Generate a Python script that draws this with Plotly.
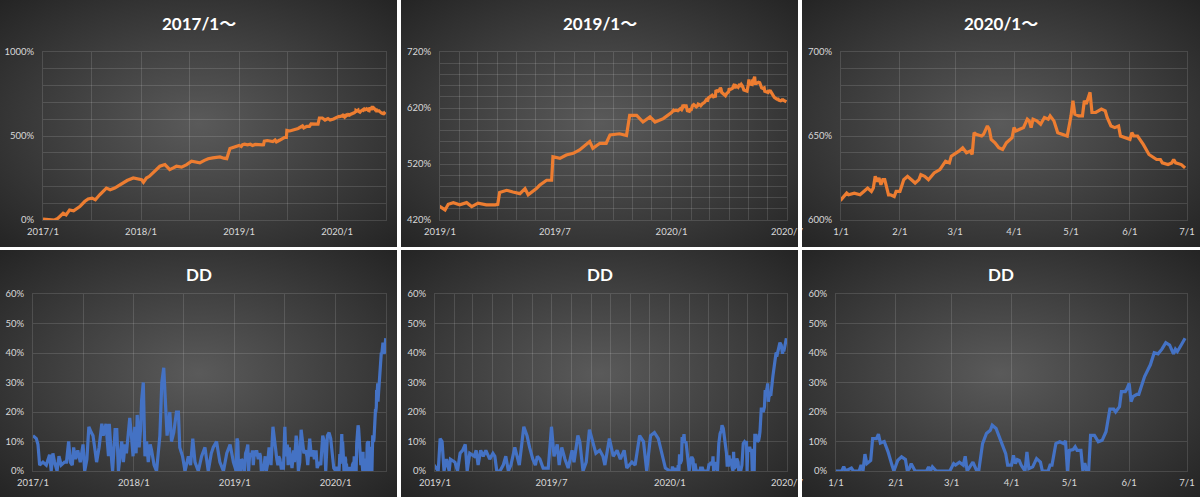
import base64
import plotly.graph_objects as go

# ----- DATA -----
eq_dates = [
    "2017-01-01", "2017-01-20", "2017-02-13", "2017-02-25", "2017-03-17", "2017-03-28",
    "2017-04-10", "2017-04-25", "2017-05-18", "2017-06-05", "2017-06-18", "2017-07-03",
    "2017-07-15", "2017-07-31", "2017-08-12", "2017-08-25", "2017-09-08", "2017-09-25",
    "2017-10-10", "2017-10-26", "2017-11-10", "2017-12-03", "2017-12-18", "2018-01-03",
    "2018-01-10", "2018-01-21", "2018-02-01", "2018-02-15", "2018-03-01", "2018-03-12",
    "2018-03-31", "2018-04-18", "2018-05-01", "2018-05-13", "2018-06-01", "2018-06-20",
    "2018-07-08", "2018-07-20", "2018-08-08", "2018-08-25", "2018-09-08", "2018-09-25",
    "2018-10-22", "2018-11-05", "2018-11-16", "2018-11-28", "2018-12-15",
    "2019-01-01", "2019-01-09", "2019-01-14", "2019-01-22", "2019-02-01", "2019-02-12",
    "2019-02-20", "2019-03-02", "2019-03-15", "2019-03-29", "2019-04-02", "2019-04-05",
    "2019-04-16", "2019-04-26", "2019-05-07", "2019-05-15", "2019-05-20", "2019-06-02",
    "2019-06-07", "2019-06-18", "2019-06-26", "2019-06-28", "2019-07-09", "2019-07-19",
    "2019-07-30", "2019-08-09", "2019-08-25", "2019-08-30", "2019-09-10", "2019-09-20",
    "2019-09-26", "2019-10-11", "2019-10-22", "2019-10-27", "2019-11-07", "2019-11-17",
    "2019-11-28", "2019-12-06", "2019-12-19",
    "2020-01-01", "2020-01-04", "2020-01-05", "2020-01-08", "2020-01-11", "2020-01-13",
    "2020-01-15", "2020-01-17", "2020-01-18", "2020-01-19", "2020-01-20", "2020-01-21",
    "2020-01-22", "2020-01-23", "2020-01-24", "2020-01-26", "2020-01-27", "2020-01-29",
    "2020-01-30", "2020-02-01", "2020-02-03", "2020-02-05", "2020-02-08", "2020-02-09",
    "2020-02-11", "2020-02-12", "2020-02-14", "2020-02-16", "2020-02-19", "2020-02-22",
    "2020-02-25", "2020-02-27", "2020-02-28", "2020-03-02", "2020-03-03", "2020-03-05",
    "2020-03-07", "2020-03-09", "2020-03-10", "2020-03-11", "2020-03-12", "2020-03-15",
    "2020-03-16", "2020-03-18", "2020-03-19", "2020-03-20", "2020-03-22", "2020-03-24",
    "2020-03-26", "2020-03-28", "2020-03-31", "2020-04-01", "2020-04-02", "2020-04-04",
    "2020-04-06", "2020-04-08", "2020-04-09", "2020-04-10", "2020-04-11", "2020-04-13",
    "2020-04-15", "2020-04-17", "2020-04-19", "2020-04-20", "2020-04-22", "2020-04-24",
    "2020-04-27", "2020-04-29", "2020-05-01", "2020-05-02", "2020-05-03", "2020-05-05",
    "2020-05-07", "2020-05-08", "2020-05-09", "2020-05-11", "2020-05-12", "2020-05-14",
    "2020-05-17", "2020-05-19", "2020-05-20", "2020-05-22", "2020-05-24", "2020-05-26",
    "2020-05-27", "2020-05-30", "2020-06-01", "2020-06-02", "2020-06-03", "2020-06-05",
    "2020-06-08", "2020-06-11", "2020-06-15", "2020-06-17", "2020-06-18", "2020-06-21",
    "2020-06-23", "2020-06-24", "2020-06-25", "2020-06-28", "2020-06-30",
]
eq_values = [
    5, 3, 0, 10, 40, 30,
    60, 55, 80, 110, 125, 130,
    120, 150, 170, 190, 180, 190,
    205, 220, 235, 250, 245, 240,
    225, 250, 260, 280, 300, 320,
    330, 300, 310, 320, 315, 330,
    350, 345, 340, 355, 365, 370,
    375, 368, 365, 425, 435,
    444, 438, 448, 451, 447, 451,
    444, 450, 447, 447, 448, 469,
    473, 470, 467, 476, 465, 476,
    482, 491, 491, 533, 530, 536,
    539, 545, 560, 548, 557, 557,
    572, 574, 571, 607, 607, 595,
    604, 595, 601,
    612, 616, 615, 616, 615, 617,
    619, 617, 619, 626, 623, 625,
    621, 624, 624, 615, 615, 614,
    617, 617, 624, 626, 623, 622,
    624, 627, 626, 624, 628, 630,
    635, 634, 638, 640, 641, 643,
    640, 641, 639, 652, 651, 650,
    651, 656, 654, 648, 646, 643,
    642, 646, 649, 655, 653, 654,
    655, 660, 659, 655, 660, 659,
    657, 661, 660, 662, 659, 652,
    651, 650, 662, 671, 663, 662,
    662, 671, 669, 676, 664, 664,
    666, 665, 661, 656, 655, 656,
    650, 649, 648, 652, 650, 650,
    645, 639, 636, 636, 634, 633,
    634, 636, 634, 633, 631,
]

dd_dates = [
    "2017-01-01", "2017-01-13", "2017-01-19", "2017-01-25", "2017-02-06", "2017-02-18",
    "2017-03-02", "2017-03-08", "2017-03-14", "2017-03-20", "2017-03-29", "2017-04-05",
    "2017-04-13", "2017-04-25", "2017-05-02", "2017-05-10", "2017-05-16", "2017-05-23",
    "2017-05-28", "2017-06-04", "2017-06-12", "2017-06-21", "2017-07-01", "2017-07-07",
    "2017-07-15", "2017-07-22", "2017-07-31", "2017-08-06", "2017-08-12", "2017-08-19",
    "2017-08-28", "2017-09-07", "2017-09-12", "2017-09-22", "2017-10-01", "2017-10-04",
    "2017-10-13", "2017-10-16", "2017-10-25", "2017-10-31", "2017-11-06", "2017-11-18",
    "2017-11-24", "2017-11-30", "2017-12-05", "2017-12-11", "2017-12-17", "2017-12-23",
    "2017-12-29", "2018-01-04", "2018-01-09", "2018-01-13", "2018-01-20", "2018-01-25",
    "2018-01-29", "2018-02-04", "2018-02-10", "2018-02-16", "2018-02-22", "2018-03-01",
    "2018-03-06", "2018-03-15", "2018-03-24", "2018-04-05", "2018-04-12", "2018-04-19",
    "2018-04-26", "2018-05-01", "2018-05-05", "2018-05-11", "2018-05-17", "2018-05-25",
    "2018-06-04", "2018-06-11", "2018-06-16", "2018-06-26", "2018-07-05", "2018-07-17",
    "2018-07-25", "2018-08-02", "2018-08-10", "2018-08-22", "2018-09-03", "2018-09-15",
    "2018-09-27", "2018-10-08", "2018-10-15", "2018-10-27", "2018-11-08", "2018-11-21",
    "2018-12-03", "2018-12-15", "2018-12-27",
    "2019-01-01", "2019-01-06", "2019-01-09", "2019-01-12", "2019-01-15", "2019-01-19",
    "2019-01-23", "2019-01-25", "2019-02-01", "2019-02-05", "2019-02-09", "2019-02-13",
    "2019-02-17", "2019-02-20", "2019-02-24", "2019-03-03", "2019-03-06", "2019-03-09",
    "2019-03-13", "2019-03-17", "2019-03-21", "2019-03-27", "2019-04-01", "2019-04-04",
    "2019-04-07", "2019-04-12", "2019-04-17", "2019-04-21", "2019-04-25", "2019-04-29",
    "2019-05-05", "2019-05-09", "2019-05-12", "2019-05-19", "2019-05-24", "2019-05-28",
    "2019-06-02", "2019-06-06", "2019-06-09", "2019-06-13", "2019-06-18", "2019-06-26",
    "2019-07-01", "2019-07-05", "2019-07-10", "2019-07-13", "2019-07-17", "2019-07-22",
    "2019-07-27", "2019-08-02", "2019-08-05", "2019-08-11", "2019-08-14", "2019-08-19",
    "2019-08-24", "2019-08-29", "2019-09-03", "2019-09-08", "2019-09-14", "2019-09-19",
    "2019-09-22", "2019-09-29", "2019-10-05", "2019-10-11", "2019-10-16", "2019-10-22",
    "2019-10-26", "2019-11-03", "2019-11-08", "2019-11-15", "2019-11-21", "2019-11-26",
    "2019-12-02", "2019-12-08", "2019-12-14", "2019-12-19", "2019-12-25",
    "2020-01-01", "2020-01-04", "2020-01-05", "2020-01-06", "2020-01-09", "2020-01-10",
    "2020-01-13", "2020-01-14", "2020-01-15", "2020-01-16", "2020-01-17", "2020-01-19",
    "2020-01-20", "2020-01-22", "2020-01-23", "2020-01-24", "2020-01-26", "2020-01-28",
    "2020-01-30", "2020-01-31", "2020-02-02", "2020-02-04", "2020-02-06", "2020-02-07",
    "2020-02-08", "2020-02-09", "2020-02-11", "2020-02-17", "2020-02-18", "2020-02-19",
    "2020-02-20", "2020-02-22", "2020-02-29", "2020-03-02", "2020-03-03", "2020-03-05",
    "2020-03-07", "2020-03-08", "2020-03-09", "2020-03-12", "2020-03-14", "2020-03-15",
    "2020-03-17", "2020-03-19", "2020-03-21", "2020-03-22", "2020-03-24", "2020-03-26",
    "2020-03-27", "2020-03-29", "2020-03-30", "2020-04-01", "2020-04-02", "2020-04-03",
    "2020-04-04", "2020-04-05", "2020-04-06", "2020-04-08", "2020-04-09", "2020-04-10",
    "2020-04-12", "2020-04-14", "2020-04-16", "2020-04-17", "2020-04-20", "2020-04-21",
    "2020-04-22", "2020-04-24", "2020-04-26", "2020-04-28", "2020-04-29", "2020-04-30",
    "2020-05-01", "2020-05-03", "2020-05-04", "2020-05-05", "2020-05-07", "2020-05-08",
    "2020-05-09", "2020-05-10", "2020-05-11", "2020-05-12", "2020-05-14", "2020-05-16",
    "2020-05-18", "2020-05-19", "2020-05-20", "2020-05-22", "2020-05-24", "2020-05-25",
    "2020-05-27", "2020-05-28", "2020-05-30", "2020-05-31", "2020-06-01", "2020-06-02",
    "2020-06-03", "2020-06-05", "2020-06-06", "2020-06-09", "2020-06-12", "2020-06-14",
    "2020-06-16", "2020-06-18", "2020-06-20", "2020-06-22", "2020-06-24", "2020-06-25",
    "2020-06-26", "2020-06-28", "2020-06-30",
]
dd_values = [
    12, 11, 9, 2, 3, 2,
    5.5, 0, 6, 3, 0, 5,
    2, 3, 3, 10, 3, 2,
    8, 4, 7, 3, 9, 0,
    4, 15, 13, 12, 8, 3,
    8, 16, 12, 16, 5, 16,
    3, 0, 14, 14, 0, 10,
    3, 9, 6, 12, 18, 12,
    5, 15, 6, 19, 8, 14,
    24, 30, 5, 10, 3, 9,
    7, 2, 0, 12, 30, 35,
    20, 12, 15, 20, 10, 13,
    20, 20, 8, 5, 0, 5,
    2, 11, 3, 0, 5, 8,
    0, 6, 8, 10, 3, 0,
    6, 9, 3,
    1.5, 0, 11, 10, 0, 4,
    0, 4, 3, 0, 6, 7,
    9, 0, 6, 5, 7, 2,
    7, 5, 7, 4, 6, 5,
    0, 0, 2, 5, 0, 2,
    8, 5, 2, 15, 12, 8,
    4, 2, 5, 4, 1, 1,
    15, 5, 9, 2, 8, 4,
    1, 7, 3, 12, 10, 0,
    3, 14, 10, 6, 7, 5,
    2, 11, 5, 7, 4, 7,
    1, 3, 2, 12, 10, 0,
    12, 13, 11, 6, 1,
    0, 0, 1.5, 0, 1, 0,
    0, 2, 0, 5.7, 2.5, 3.6,
    11, 11, 12.5, 9.5, 10, 6.5,
    2, 0, 3.6, 4.8, 3.9, 0,
    0.8, 2.5, 0, 0, 1.4, 0,
    1.4, 0, 0, 2.5, 2, 3,
    2, 5, 0, 3, 0, 0,
    9.3, 12.7, 13.8, 15.5, 14.4, 11,
    9.9, 5.9, 2, 2, 5.3, 2.5,
    3.9, 3.6, 2, 0, 6.5, 0.8,
    1.4, 4.2, 3, 0, 0, 2,
    2, 9.3, 9.9, 9.3, 10.2, 0,
    7, 7.3, 8.2, 7, 7, 0,
    2.7, 0, 0, 12.1, 12.1, 9.9,
    10.4, 11.6, 13.3, 21, 21, 20,
    21.8, 26.9, 26.9, 28, 29.7, 23.5,
    25.2, 26, 26, 32, 36, 40.1,
    39.7, 41.3, 43.5, 42.7, 39.7, 41.3,
    40.5, 42.7, 45,
]

titles = ["2017/1～", "2019/1～", "2020/1～", "DD", "DD", "DD"]
x_starts = ["2017-01-01", "2019-01-01", "2020-01-01"]
x_end = "2020-07-01"
eq_ranges = [[0, 1000], [420, 720], [600, 700]]
dd_range = [0, 60]

# ----- LAYOUT (pixels) -----
W, H = 1200, 497
ORANGE = "#ED7D31"
BLUE = "#4472C4"
GRID = "rgba(255,255,255,0.13)"
TICKFONT = dict(family="Lato, Noto Sans", size=9.5, color="#d9d9d9")

panels = [(0, 0, 397, 247), (401, 0, 798, 247), (802, 0, 1200, 247),
          (0, 250, 397, 497), (401, 250, 798, 497), (802, 250, 1200, 497)]
plots = [(43, 52, 386, 220), (440, 52, 787, 220), (841, 52, 1187, 220),
         (33, 294, 386, 471), (435, 294, 787, 471), (836, 294, 1187, 471)]
x_major = ["M12", "M6", "M1"]
x_minor = ["M6", "M1", None]
x_fmt = ["%Y/%-m", "%Y/%-m", "%-m/%-d"]
y_major = [500, 100, 50]
y_minor = [100, 20, 10]

svg = (
    '<svg xmlns="http://www.w3.org/2000/svg" width="400" height="250" '
    'viewBox="0 0 400 250" preserveAspectRatio="none"><defs>'
    '<radialGradient id="g" cx="50%" cy="50%" r="72%">'
    '<stop offset="0" stop-color="#5a5a5a"/><stop offset="1" stop-color="#232323"/>'
    '</radialGradient></defs><rect width="400" height="250" fill="url(#g)"/></svg>'
)
bg_src = "data:image/svg+xml;base64," + base64.b64encode(svg.encode()).decode()


def px(x):
    return x / W


def py(y):
    return 1 - y / H


fig = go.Figure()
layout = dict(
    width=W, height=H, margin=dict(l=0, r=0, t=0, b=0, pad=0, autoexpand=False),
    paper_bgcolor="white", plot_bgcolor="rgba(0,0,0,0)",
    showlegend=False, images=[], annotations=[], shapes=[],
)

for i in range(6):
    col = i % 3
    n = "" if i == 0 else str(i + 1)
    x0, y0, x1, y1 = plots[i]
    is_dd = i >= 3

    if is_dd:
        xs, ys, color = dd_dates, dd_values, BLUE
    else:
        xs, ys, color = eq_dates, eq_values, ORANGE
    fig.add_trace(go.Scatter(x=xs, y=ys, mode="lines", xaxis="x" + n, yaxis="y" + n,
                             line=dict(color=color, width=3.2), hoverinfo="skip"))

    xa = dict(
        domain=[px(x0), px(x1)], anchor="y" + n, type="date",
        range=[x_starts[col], x_end], tick0=x_starts[col], dtick=x_major[col],
        tickformat=x_fmt[col], tickfont=TICKFONT, ticks="", ticklabelstandoff=3,
        showgrid=True, gridcolor=GRID, gridwidth=1, zeroline=False, automargin=False,
        showline=True, mirror=True, linecolor=GRID, linewidth=1,
    )
    if x_minor[col]:
        xa["minor"] = dict(dtick=x_minor[col], tick0=x_starts[col], showgrid=True,
                           gridcolor=GRID, gridwidth=1)
    if is_dd:
        ya = dict(range=dd_range, dtick=10, tick0=0, ticksuffix="%")
    else:
        ya = dict(range=eq_ranges[col], dtick=y_major[col], tick0=eq_ranges[col][0],
                  ticksuffix="%",
                  minor=dict(dtick=y_minor[col], tick0=eq_ranges[col][0], showgrid=True,
                             gridcolor=GRID, gridwidth=1))
    ya.update(
        domain=[py(y1), py(y0)], anchor="x" + n, tickfont=TICKFONT, ticks="",
        ticklabelstandoff=6, showgrid=True, gridcolor=GRID, gridwidth=1, zeroline=False,
        showline=True, mirror=True, linecolor=GRID, linewidth=1, automargin=False,
    )
    layout["xaxis" + n] = xa
    layout["yaxis" + n] = ya

    bx0, by0, bx1, by1 = panels[i]
    layout["images"].append(dict(
        source=bg_src, xref="paper", yref="paper", x=px(bx0), y=py(by0),
        sizex=px(bx1 - bx0), sizey=(by1 - by0) / H, sizing="stretch",
        xanchor="left", yanchor="top", layer="below",
    ))
    layout["annotations"].append(dict(
        text="<b>" + titles[i] + "</b>", xref="paper", yref="paper",
        x=px((bx0 + bx1) / 2), y=py(by0 + 24), xanchor="center", yanchor="middle",
        showarrow=False, font=dict(family="Lato, Noto Sans CJK JP", size=17, color="white"),
    ))

# white gaps between the panels, drawn on top so overflowing tick labels get cut
for gx0, gx1 in [(397, 401), (798, 802)]:
    layout["shapes"].append(dict(type="rect", xref="paper", yref="paper", layer="above",
                                 x0=px(gx0), x1=px(gx1), y0=0, y1=1,
                                 fillcolor="white", line=dict(width=0)))
layout["shapes"].append(dict(type="rect", xref="paper", yref="paper", layer="above",
                             x0=0, x1=1, y0=py(250), y1=py(247),
                             fillcolor="white", line=dict(width=0)))

fig.update_layout(**layout)
# drop the page's default body margin so the figure sits at the window's corner
fig.write_html("out.html", config={"displayModeBar": False},
               post_script="document.body.style.margin='0';document.body.style.overflow='hidden';")
